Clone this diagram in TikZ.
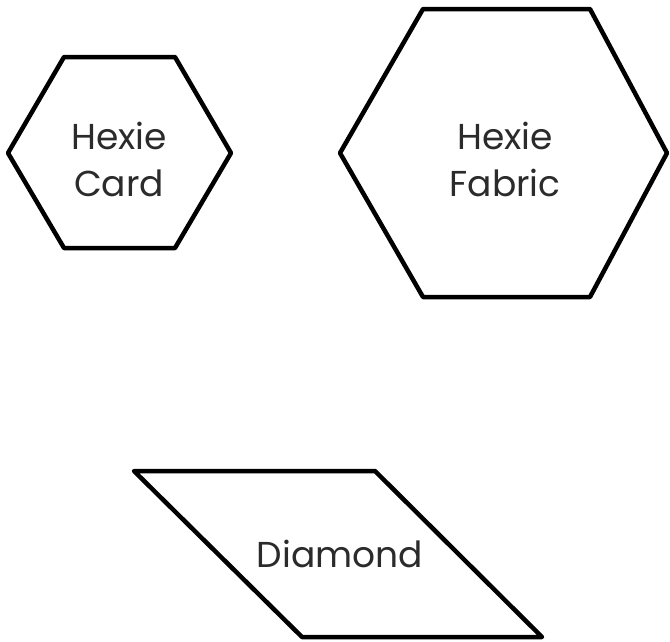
\documentclass[tikz,border=0pt]{standalone}
\usepackage{fontspec}
\setmainfont{Poppins}
\definecolor{txt}{HTML}{2B2B2B}
\begin{document}
\begin{tikzpicture}[x=1pt,y=-1pt,
  shapeline/.style={draw=black,line width=4.5pt,line join=round},
  label/.style={text=txt,font=\fontsize{36}{47}\selectfont,align=center,inner sep=0pt}]
\useasboundingbox (0,0) rectangle (670,641);
\draw[shapeline] (8,153) -- (64,57) -- (175,57) -- (231,153) -- (175,248) -- (64,248) -- cycle;
\draw[shapeline] (340,153) -- (423,9) -- (590,9) -- (667,153) -- (590,297) -- (423,297) -- cycle;
\draw[shapeline] (134,471) -- (375,471) -- (542,637) -- (302,637) -- cycle;
\node[label] (card) at (119,159) {Hexie\\Card};
\node[label] (fabric) at (505,159) {Hexie\\Fabric};
\node[label] (diamond) at (340,554) {Diamond};
\end{tikzpicture}
\end{document}
